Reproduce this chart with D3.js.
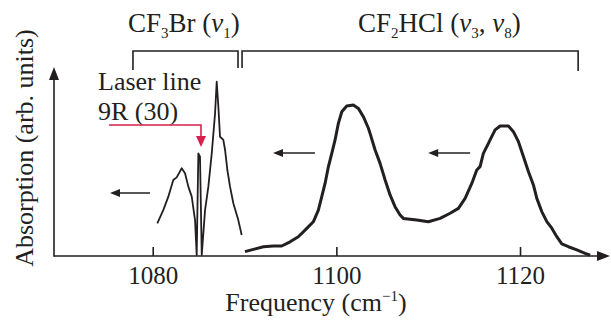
<!DOCTYPE html>
<html>
<head>
<meta charset="utf-8">
<script src="https://cdn.jsdelivr.net/npm/d3@7"></script>
<style>
  body { margin: 0; background: #fff; }
  text { font-family: "Liberation Serif", "Times New Roman", serif; fill: #231f20; }
</style>
</head>
<body>
<svg id="chart" width="611" height="322"></svg>
<script>
// spectra: frequency (cm-1) and absorption (arb. units, 0..1)
const cf3brFreq = [1080.50, 1081.15, 1081.70, 1082.24, 1082.61, 1083.16, 1083.52, 1083.88, 1084.25, 1084.61,
                   1084.79, 1084.97, 1085.15, 1085.34, 1085.70, 1086.06, 1086.43, 1086.79, 1086.97, 1087.15,
                   1087.33, 1087.69, 1087.88, 1088.13, 1088.42, 1088.78, 1089.32, 1089.69];
const cf3brAbs  = [0.173, 0.243, 0.314, 0.402, 0.416, 0.464, 0.438, 0.367, 0.314, 0.190,
                   0.005, 0.543, 0.526, 0.005, 0.243, 0.367, 0.543, 0.755, 0.922, 0.790,
                   0.631, 0.614, 0.561, 0.455, 0.367, 0.279, 0.190, 0.111];

const cf2hclFreq = [1090.05, 1090.96, 1092.05, 1093.14, 1094.05, 1094.96, 1095.86, 1096.78, 1097.49, 1098.04,
                    1098.41, 1098.77, 1099.13, 1099.50, 1099.86, 1100.22, 1100.59, 1101.13, 1101.85, 1102.40,
                    1102.94, 1103.49, 1103.67, 1104.22, 1104.76, 1105.31, 1105.85, 1106.39, 1106.94, 1107.30,
                    1108.76, 1110.02, 1111.30, 1112.39, 1113.29, 1114.02, 1114.75, 1115.29, 1115.65, 1116.01,
                    1116.56, 1116.74, 1117.29, 1117.83, 1118.74, 1119.28, 1119.83, 1120.37, 1120.92, 1121.46,
                    1121.83, 1122.37, 1122.92, 1123.46, 1124.01, 1124.55, 1125.27, 1126.19, 1127.09, 1127.64];
const cf2hclAbs  = [0.023, 0.035, 0.049, 0.053, 0.053, 0.075, 0.102, 0.146, 0.181, 0.243,
                    0.314, 0.384, 0.472, 0.543, 0.614, 0.702, 0.763, 0.794, 0.799, 0.781,
                    0.737, 0.676, 0.649, 0.561, 0.490, 0.402, 0.323, 0.261, 0.217, 0.199,
                    0.190, 0.181, 0.199, 0.226, 0.252, 0.305, 0.384, 0.455, 0.473, 0.543,
                    0.596, 0.614, 0.667, 0.688, 0.688, 0.658, 0.605, 0.526, 0.446, 0.376,
                    0.305, 0.235, 0.182, 0.147, 0.102, 0.064, 0.049, 0.032, 0.014, 0.005];

const tickValues = [1080, 1100, 1120];
// direction arrows (scan direction), in data units: [from, to, level]
const scanArrows = [[1079.71, 1075.35, 0.333], [1097.67, 1093.1, 0.545], [1114.57, 1110.0, 0.545]];
// bracket extents (cm-1)
const brackets = [[1077.85, 1089.29], [1089.73, 1126.33]];
const laserLine = 1085.26;

const svg = d3.select("#chart");
const ink = "#231f20";

const x = d3.scaleLinear().domain([1069.25, 1129.8]).range([54, 610]);
const y = d3.scaleLinear().domain([0, 1]).range([256, 67]);

// x axis
const xAxis = svg.append("g").attr("transform", "translate(0,256)")
  .call(d3.axisBottom(x).tickValues(tickValues).tickSize(-9).tickPadding(10).tickFormat(d3.format("d")));
xAxis.select(".domain").remove();
xAxis.selectAll("line").attr("stroke", ink).attr("stroke-width", 1.6);
xAxis.selectAll("text").attr("font-size", 25).attr("fill", ink)
  .style("font-family", '"Liberation Serif", serif');

svg.append("line").attr("x1", x.range()[0]).attr("x2", x.range()[1] - 8)
  .attr("y1", y(0)).attr("y2", y(0)).attr("stroke", ink).attr("stroke-width", 1.6);
svg.append("path")
  .attr("d", `M${x.range()[1]},${y(0)} l-13,-5 l0,10 z`).attr("fill", ink);

// y axis
svg.append("line").attr("x1", x.range()[0]).attr("x2", x.range()[0])
  .attr("y1", y(0) + 0.8).attr("y2", y(1) + 8).attr("stroke", ink).attr("stroke-width", 1.6);
svg.append("path")
  .attr("d", `M${x.range()[0]},${y(1)} l-5,13 l10,0 z`).attr("fill", ink);

// spectra
const line = d3.line().x(d => x(d[0])).y(d => y(d[1]));
svg.append("path").datum(d3.zip(cf3brFreq, cf3brAbs))
  .attr("d", line).attr("fill", "none").attr("stroke", ink)
  .attr("stroke-width", 1.8).attr("stroke-linejoin", "round");
svg.append("path").datum(d3.zip(cf2hclFreq, cf2hclAbs))
  .attr("d", line).attr("fill", "none").attr("stroke", ink)
  .attr("stroke-width", 3).attr("stroke-linejoin", "round");

// scan direction arrows
scanArrows.forEach(([a, b, lv]) => {
  svg.append("line").attr("x1", x(a)).attr("x2", x(b) + 6)
    .attr("y1", y(lv)).attr("y2", y(lv)).attr("stroke", ink).attr("stroke-width", 1.6);
  svg.append("path").attr("d", `M${x(b)},${y(lv)} l10,-4 l0,8 z`).attr("fill", ink);
});

// brackets
const bracketTop = 51;
svg.append("path")
  .attr("d", `M${x(brackets[0][0])},70 V${bracketTop} H${x(brackets[0][1])} V68`)
  .attr("fill", "none").attr("stroke", ink).attr("stroke-width", 1.6);
svg.append("path")
  .attr("d", `M${x(brackets[1][0])},68 V${bracketTop} H${x(brackets[1][1])} V71`)
  .attr("fill", "none").attr("stroke", ink).attr("stroke-width", 1.6);

// labels with subscripts: parts are [text, kind] with kind "", "sub" or "nu"
function chem(xPos, parts) {
  const t = svg.append("text").attr("x", xPos).attr("y", 32).attr("font-size", 27);
  let shift = 0;
  parts.forEach(([s, kind]) => {
    const sp = t.append("tspan").text(s);
    const want = kind === "sub" ? 6 : 0;
    if (want !== shift) { sp.attr("dy", want - shift); shift = want; }
    if (kind === "sub") sp.attr("font-size", 15);
    if (kind === "nu") sp.attr("font-style", "italic");
  });
}
chem(128, [["CF", ""], ["3", "sub"], ["Br (", ""], ["ν", "nu"], ["1", "sub"], [")", ""]]);
chem(358, [["CF", ""], ["2", "sub"], ["HCl (", ""], ["ν", "nu"], ["3", "sub"], [", ", ""], ["ν", "nu"], ["8", "sub"], [")", ""]]);

// laser line annotation
svg.append("text").attr("x", 98).attr("y", 90).attr("font-size", 26).text("Laser line");
svg.append("text").attr("x", 98).attr("y", 120).attr("font-size", 26).text("9R (30)");
const red = "#d81f4c";
svg.append("path")
  .attr("d", `M${x(1075.25)},125 H${x(laserLine)} V138`)
  .attr("fill", "none").attr("stroke", red).attr("stroke-width", 1.6);
svg.append("path").attr("d", `M${x(laserLine)},147 l-5,-11 l10,0 z`).attr("fill", red);

// axis titles
const xt = svg.append("text").attr("x", 316).attr("y", 311).attr("text-anchor", "middle").attr("font-size", 26);
xt.append("tspan").text("Frequency (cm");
xt.append("tspan").attr("font-size", 15).attr("dy", -10).text("−1");
xt.append("tspan").attr("dy", 10).text(")");

svg.append("text")
  .attr("transform", "translate(33,148) rotate(-90)")
  .attr("text-anchor", "middle").attr("font-size", 26)
  .text("Absorption (arb. units)");
</script>
</body>
</html>
